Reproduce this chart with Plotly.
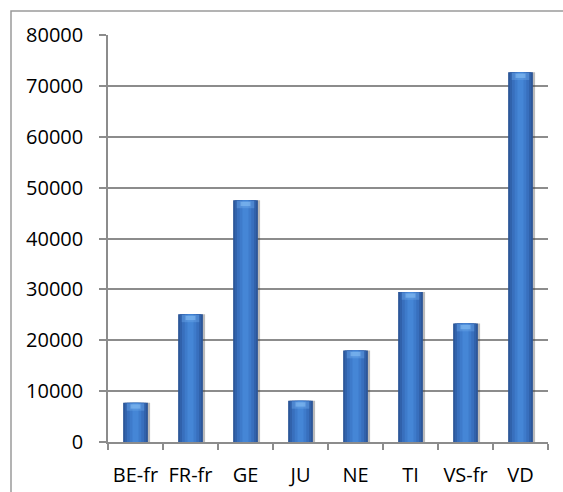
import plotly.graph_objects as go

# Regions and their totals
regions = ["BE-fr", "FR-fr", "GE", "JU", "NE", "TI", "VS-fr", "VD"]
totals = [7700, 25100, 47500, 8100, 18000, 29500, 23300, 72700]
y_ticks = [0, 10000, 20000, 30000, 40000, 50000, 60000, 70000, 80000]

W, H = 563, 492
L, R, T, B = 108, 15, 35, 50

fig = go.Figure()

# soft drop shadow on the right of each column
fig.add_trace(go.Bar(x=regions, y=totals, width=0.47, offset=-0.205,
                     marker=dict(color="rgba(60,60,60,0.35)", line=dict(width=0)),
                     hoverinfo="skip"))
# column body, layered from dark edges to a lighter core for a rounded look
layers = [
    (0.45, "#2b5597"),
    (0.39, "#3162ab"),
    (0.31, "#386fbd"),
    (0.21, "#3e7bcb"),
    (0.11, "#4586d6"),
]
for w, c in layers:
    fig.add_trace(go.Bar(x=regions, y=totals, width=w,
                         marker=dict(color=c, line=dict(width=0)),
                         hoverinfo="skip"))

# glossy cap just under the top of each column
cap = 1400
fig.add_trace(go.Bar(x=regions, y=[cap] * len(totals),
                     base=[v - cap - 150 for v in totals], width=0.32,
                     marker=dict(color="rgba(110,170,235,0.4)", line=dict(width=0)),
                     hoverinfo="skip"))
fig.add_trace(go.Bar(x=regions, y=[cap * 0.6] * len(totals),
                     base=[v - cap * 0.6 - 300 for v in totals], width=0.18,
                     marker=dict(color="rgba(150,205,250,0.45)", line=dict(width=0)),
                     hoverinfo="skip"))

axis_grey = "#8c8c8c"
font = dict(family="Open Sans, sans-serif", size=20, color="#000000")

fig.update_layout(
    width=W, height=H,
    margin=dict(l=L, r=R, t=T, b=B, autoexpand=False),
    paper_bgcolor="white", plot_bgcolor="white",
    barmode="overlay", showlegend=False,
    font=font,
    xaxis=dict(
        type="category", tickson="boundaries", ticks="outside", ticklen=6,
        tickcolor=axis_grey, tickwidth=1.5,
        showline=True, linecolor=axis_grey, linewidth=1.5,
        showgrid=False, tickfont=font, ticklabelstandoff=14,
        automargin=False,
        range=[-0.5, len(regions) - 0.5],
    ),
    yaxis=dict(
        range=[0, 80000], tickvals=y_ticks, ticktext=[str(v) for v in y_ticks],
        ticks="outside", ticklen=7, tickcolor=axis_grey, tickwidth=1.5,
        showline=True, linecolor=axis_grey, linewidth=1.5,
        showgrid=True, gridcolor=axis_grey, gridwidth=1.5,
        zeroline=False, tickfont=font, ticklabelstandoff=12,
        automargin=False,
    ),
    shapes=[
        # outer chart frame
        dict(type="rect", xref="paper", yref="paper",
             x0=(11 - L) / (W - L - R), x1=1.2,
             y0=-0.3, y1=1 + (T - 11) / (H - T - B),
             line=dict(color="#9a9a9a", width=1.5), layer="below"),
    ],
)

fig.write_html("out.html")
